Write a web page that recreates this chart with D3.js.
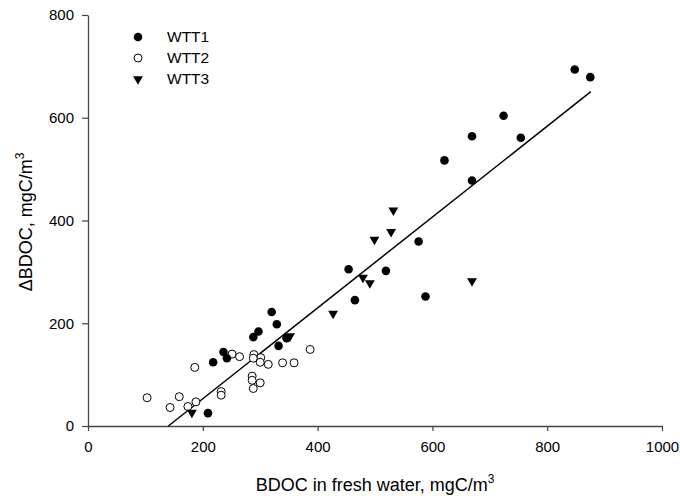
<!DOCTYPE html>
<html>
<head>
<meta charset="utf-8">
<script src="https://cdn.jsdelivr.net/npm/d3@7"></script>
<style>
  body { margin: 0; background: #fff; }
  svg { display: block; font-family: "Liberation Sans", Arial, sans-serif; }
</style>
</head>
<body>
<svg id="chart" width="680" height="496"></svg>
<script>
// data
const wtt1_x = [848, 875, 724, 669, 754, 621, 669, 576, 588, 454, 519, 465, 320, 329, 297, 288, 346, 332, 236, 242, 218, 209]
const wtt1_y = [694, 679, 604, 564, 561, 517, 478, 359, 252, 305, 302, 245, 222, 198, 184, 173, 171, 156, 144, 132, 124, 25]

const wtt2_x = [103, 143, 159, 174, 188, 186, 232, 232, 251, 264, 289, 301, 300, 288, 314, 339, 359, 387, 286, 286, 300, 288]
const wtt2_y = [55, 36, 57, 38, 47, 114, 67, 60, 140, 135, 139, 133, 124, 132, 120, 123, 123, 149, 97, 89, 84, 73]

const wtt3_x = [181, 352, 427, 479, 491, 499, 528, 532, 669]
const wtt3_y = [26, 175, 219, 289, 278, 363, 378, 420, 282]

// regression line
const fit_slope = 0.884
const fit_intercept = -123.7
const fit_range = [140, 876]

const x_ticks = [0, 200, 400, 600, 800, 1000]
const y_ticks = [0, 200, 400, 600, 800]

const series_names = ['WTT1', 'WTT2', 'WTT3']

const svg = d3.select('#chart')
const margin = { left: 88, right: 18, top: 15, bottom: 70 }
const width = 680 - margin.left - margin.right
const height = 496 - margin.top - margin.bottom

const x = d3.scaleLinear().domain([0, 1000]).range([0, width])
const y = d3.scaleLinear().domain([0, 800]).range([height, 0])

const g = svg.append('g').attr('transform', `translate(${margin.left},${margin.top})`)

// axes
const x_axis = g.append('g')
  .attr('transform', `translate(0,${height})`)
  .call(d3.axisBottom(x).tickValues(x_ticks).tickFormat(d3.format('d'))
    .tickSize(5).tickPadding(10).tickSizeOuter(0))
const y_axis = g.append('g')
  .call(d3.axisLeft(y).tickValues(y_ticks).tickFormat(d3.format('d'))
    .tickSize(6).tickPadding(8).tickSizeOuter(0))

for (let ax of [x_axis, y_axis]) {
  ax.select('.domain').attr('stroke', '#444').attr('stroke-width', 1.3)
  ax.selectAll('.tick line').attr('stroke', '#444').attr('stroke-width', 1.2)
  ax.selectAll('.tick text')
    .attr('fill', '#000')
    .style('font-size', '15px')
    .style('font-family', '"Liberation Sans", Arial, sans-serif')
}

// fit line
g.append('line')
  .attr('x1', x(fit_range[0]))
  .attr('y1', y(fit_slope * fit_range[0] + fit_intercept))
  .attr('x2', x(fit_range[1]))
  .attr('y2', y(fit_slope * fit_range[1] + fit_intercept))
  .attr('stroke', '#000')
  .attr('stroke-width', 1.5)

const tri = d3.symbol().type(d3.symbolTriangle).size(42)

// WTT2 open circles
g.selectAll('.wtt2')
  .data(d3.zip(wtt2_x, wtt2_y))
  .join('circle')
  .attr('class', 'wtt2')
  .attr('cx', d => x(d[0]))
  .attr('cy', d => y(d[1]))
  .attr('r', 4)
  .attr('fill', '#fff')
  .attr('stroke', '#000')
  .attr('stroke-width', 1)

// WTT1 filled circles
g.selectAll('.wtt1')
  .data(d3.zip(wtt1_x, wtt1_y))
  .join('circle')
  .attr('class', 'wtt1')
  .attr('cx', d => x(d[0]))
  .attr('cy', d => y(d[1]))
  .attr('r', 4.3)
  .attr('fill', '#000')

// WTT3 down triangles
g.selectAll('.wtt3')
  .data(d3.zip(wtt3_x, wtt3_y))
  .join('path')
  .attr('class', 'wtt3')
  .attr('d', tri)
  .attr('transform', d => `translate(${x(d[0])},${y(d[1])}) rotate(180)`)
  .attr('fill', '#000')

// legend
const legend = svg.append('g').attr('transform', 'translate(138,37)')
series_names.forEach((name, i) => {
  let row = legend.append('g').attr('transform', `translate(0,${i * 21})`)
  if (i == 0) {
    row.append('circle').attr('r', 4.3).attr('fill', '#000')
  } else if (i == 1) {
    row.append('circle').attr('r', 4).attr('fill', '#fff').attr('stroke', '#000')
  } else {
    row.append('path').attr('d', tri).attr('transform', 'rotate(180)').attr('fill', '#000')
  }
  row.append('text')
    .attr('x', 29)
    .attr('dy', '0.35em')
    .style('font-size', '15.5px')
    .text(name)
})

// axis titles
const x_title = svg.append('text')
  .attr('x', margin.left + width / 2)
  .attr('y', 491)
  .attr('text-anchor', 'middle')
  .style('font-size', '18px')
x_title.append('tspan').text('BDOC in fresh water, mgC/m')
x_title.append('tspan').attr('dy', -8).style('font-size', '12px').text('3')

const y_title = svg.append('text')
  .attr('transform', 'translate(32,222) rotate(-90)')
  .attr('text-anchor', 'middle')
  .style('font-size', '18px')
y_title.append('tspan').text('ΔBDOC, mgC/m')
y_title.append('tspan').attr('dy', -8).style('font-size', '12px').text('3')
</script>
</body>
</html>
